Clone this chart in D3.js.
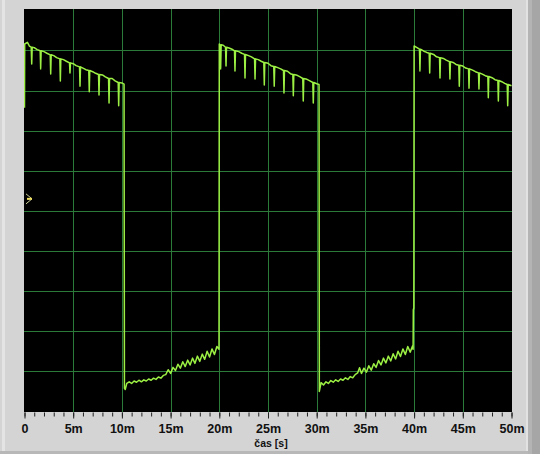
<!DOCTYPE html>
<html><head><meta charset="utf-8">
<script src="https://cdn.jsdelivr.net/npm/d3@7"></script>
<style>html,body{margin:0;padding:0;background:#d4d4d4;}svg{display:block;}</style>
</head><body>
<svg id="chart" width="540" height="454"></svg>
<script>
// ---------- data (time in ms, level in divisions) ----------
const xTickValues = [0,5,10,15,20,25,30,35,40,45,50];
const xTickLabels = ["0","5m","10m","15m","20m","25m","30m","35m","40m","45m","50m"];
const xMinorTicks = d3.range(0, 51, 1);
const yGridLevels = [1,2,3,4,5,6,7,8,9];
const axisTitle = "čas [s]";
const markerLevel = 5.3;

const startPoint = [[0.0, 7.57]];

const high1Env = [[0.02,9.16],[0.3,9.20],[0.5,9.11],[1.0,9.07],[1.3,9.02],[2.0,8.97],[2.3,8.93],[3.0,8.87],[3.3,8.82],
  [4.0,8.77],[4.3,8.73],[5.0,8.67],[5.3,8.62],[6.0,8.56],[6.3,8.52],[7.0,8.47],[7.3,8.43],[8.0,8.39],[8.3,8.34],
  [9.0,8.30],[9.3,8.24],[10.0,8.19],[10.22,8.16]];
const high1Spikes = [[0.74,9.08,8.66],[1.66,8.99,8.54],[2.69,8.89,8.41],[3.68,8.79,8.24],[4.67,8.69,8.44],
  [5.70,8.59,8.11],[6.65,8.50,7.97],[7.65,8.40,7.89],[8.68,8.30,7.69],[9.67,8.20,7.62]];

const low1 = [[10.26,0.58],[10.35,0.55],[10.5,0.70],[10.75,0.74],[11.0,0.70],[11.25,0.76],[11.5,0.73],[11.75,0.78],
  [12.0,0.74],[12.25,0.79],[12.5,0.76],[12.75,0.81],[13.0,0.78],[13.25,0.83],[13.5,0.80],[13.75,0.86],[14.0,0.83],
  [14.25,0.90],[14.5,0.92],[14.75,1.04],[15.0,0.95],[15.25,1.10],[15.5,1.02],[15.75,1.18],[16.0,1.08],[16.25,1.24],
  [16.5,1.12],[16.75,1.28],[17.0,1.16],[17.25,1.33],[17.5,1.20],[17.75,1.38],[18.0,1.25],[18.25,1.43],[18.5,1.30],
  [18.75,1.50],[19.0,1.36],[19.25,1.56],[19.5,1.42],[19.75,1.62],[19.97,1.55]];

const high2Env = [[20.0,9.16],[20.4,9.13],[21.0,9.06],[21.3,9.03],[22.0,8.97],[22.3,8.93],[23.0,8.87],[23.3,8.84],
  [24.0,8.77],[24.3,8.73],[25.0,8.68],[25.3,8.62],[26.0,8.57],[26.3,8.54],[27.0,8.48],[27.3,8.42],[28.0,8.38],
  [28.3,8.34],[29.0,8.28],[29.3,8.24],[30.0,8.17],[30.24,8.15]];
const high2Spikes = [[20.14,9.14,8.54],[20.69,9.08,8.61],[21.61,8.99,8.49],[22.64,8.90,8.31],[23.67,8.79,8.29],
  [24.62,8.70,8.14],[25.64,8.60,8.11],[26.64,8.50,7.94],[27.6,8.40,7.87],[28.62,8.30,7.74],[29.65,8.20,7.69]];

const low2 = [[30.27,0.50],[30.45,0.72],[30.7,0.66],[30.95,0.74],[31.2,0.70],[31.45,0.77],[31.7,0.73],[31.95,0.79],
  [32.2,0.75],[32.45,0.81],[32.7,0.78],[32.95,0.84],[33.2,0.80],[33.45,0.87],[33.7,0.84],[33.95,0.92],[34.2,0.96],
  [34.4,1.09],[34.6,0.95],[34.85,1.08],[35.1,0.98],[35.35,1.14],[35.6,1.03],[35.85,1.19],[36.1,1.10],[36.35,1.27],
  [36.6,1.16],[36.85,1.33],[37.1,1.21],[37.35,1.38],[37.6,1.26],[37.85,1.44],[38.1,1.31],[38.35,1.50],[38.6,1.37],
  [38.85,1.56],[39.1,1.42],[39.35,1.62],[39.6,1.48],[39.85,1.64],[39.9,1.55],[39.92,2.53],[39.97,2.58]];

const high3Env = [[40.0,9.11],[40.3,9.07],[41.0,8.98],[41.3,8.95],[42.0,8.90],[42.3,8.84],[43.0,8.80],[43.3,8.76],
  [44.0,8.70],[44.3,8.65],[45.0,8.61],[45.3,8.56],[46.0,8.51],[46.3,8.47],[47.0,8.41],[47.3,8.37],[48.0,8.32],
  [48.3,8.27],[49.0,8.22],[49.3,8.18],[50.0,8.12]];
const high3Spikes = [[40.6,9.03,8.49],[41.6,8.93,8.44],[42.66,8.82,8.31],[43.68,8.72,8.29],[44.64,8.63,8.11],
  [45.64,8.54,8.06],[46.66,8.44,8.04],[47.62,8.35,7.82],[48.65,8.25,7.74],[49.61,8.15,7.62]];

// ---------- drawing ----------
const svg = d3.select("#chart");
const W = 540, H = 454;
const plot = {left: 24, right: 512, top: 9, bottom: 412};

const x = d3.scaleLinear().domain([0, 50]).range([24.5, 511.5]);
const y = d3.scaleLinear().domain([0, 10]).range([411.5, 10.3]);

// panel background & frame details
svg.append("rect").attr("width", W).attr("height", H).attr("fill", "#d4d4d4");
svg.append("rect").attr("x", 2).attr("y", 0).attr("width", 3).attr("height", 452).attr("fill", "#e4e4e4");
svg.append("rect").attr("x", 526).attr("y", 0).attr("width", 2).attr("height", H).attr("fill", "#e2e2e2");
svg.append("rect").attr("x", 528).attr("y", 0).attr("width", 4).attr("height", H).attr("fill", "#b4b4b4");
svg.append("rect").attr("x", 532).attr("y", 0).attr("width", 8).attr("height", H).attr("fill", "#a6a6a6");
svg.append("rect").attr("x", 0).attr("y", 451).attr("width", 528).attr("height", 3).attr("fill", "#b8b8b8");

// plot area
svg.append("rect").attr("x", plot.left).attr("y", plot.top)
  .attr("width", plot.right - plot.left).attr("height", plot.bottom - plot.top).attr("fill", "#000");

svg.append("clipPath").attr("id", "clip").append("rect")
  .attr("x", plot.left).attr("y", plot.top)
  .attr("width", plot.right - plot.left).attr("height", plot.bottom - plot.top);

const gridColor = "#2c7a3a";
const grid = svg.append("g").attr("clip-path", "url(#clip)").attr("shape-rendering", "crispEdges");
grid.selectAll("line.v").data(xTickValues.filter(d => d > 0 && d < 50)).join("line")
  .attr("x1", d => Math.round(x(d)) + 0.5).attr("x2", d => Math.round(x(d)) + 0.5)
  .attr("y1", plot.top).attr("y2", plot.bottom)
  .attr("stroke", gridColor).attr("stroke-width", 1);
grid.selectAll("line.h").data(yGridLevels).join("line")
  .attr("y1", d => Math.round(y(d)) + 0.5).attr("y2", d => Math.round(y(d)) + 0.5)
  .attr("x1", plot.left).attr("x2", plot.right)
  .attr("stroke", gridColor).attr("stroke-width", 1);

// x axis (ticks below plot)
const axisMinor = d3.axisBottom(x).tickValues(xMinorTicks).tickSize(4).tickFormat("");
const axisMajor = d3.axisBottom(x).tickValues(xTickValues).tickSize(6)
  .tickFormat((d, i) => xTickLabels[i]).tickPadding(8);
const gMin = svg.append("g").attr("transform", `translate(0,${plot.bottom + 0.5})`).call(axisMinor);
gMin.select(".domain").remove();
gMin.selectAll("line").attr("stroke", "#222");
const gMaj = svg.append("g").attr("transform", `translate(0,${plot.bottom + 0.5})`).call(axisMajor);
gMaj.select(".domain").remove();
gMaj.selectAll("line").attr("stroke", "#222");
gMaj.selectAll("text").attr("font-family", "'Liberation Sans', Arial, sans-serif")
  .attr("font-weight", "bold").attr("font-size", 12.5).attr("fill", "#111").attr("dy", null).attr("y", 20);

svg.append("text").attr("x", 271).attr("y", 447).attr("text-anchor", "middle")
  .attr("font-family", "'Liberation Sans', Arial, sans-serif").attr("font-weight", "bold")
  .attr("font-size", 10.5).attr("fill", "#111").text(axisTitle);

// trace
function highPhase(env, spikes) {
  const pts = env.map(d => [d[0], d[1]]);
  spikes.forEach(s => {
    pts.push([s[0] - 0.05, s[1]], [s[0], s[2]], [s[0] + 0.05, s[1]]);
  });
  return pts.sort((a, b) => a[0] - b[0]);
}
const trace = [].concat(startPoint, highPhase(high1Env, high1Spikes), low1,
  highPhase(high2Env, high2Spikes), low2, highPhase(high3Env, high3Spikes));

const line = d3.line().x(d => x(d[0])).y(d => y(d[1]));
svg.append("g").attr("clip-path", "url(#clip)").append("path")
  .datum(trace).attr("d", line).attr("fill", "none")
  .attr("stroke", "#9cf044").attr("stroke-width", 1.5).attr("stroke-linejoin", "round");

// level marker at left edge
const my = y(markerLevel);
const mk = svg.append("g");
mk.append("path").attr("d", `M${plot.left + 2},${my - 5} L${plot.left + 8},${my} L${plot.left + 2},${my + 5}`)
  .attr("fill", "none").attr("stroke", "#cfcf9a").attr("stroke-width", 1);
mk.append("rect").attr("x", plot.left + 3).attr("y", my - 1).attr("width", 5).attr("height", 2).attr("fill", "#f0e060");
</script>
</body></html>
